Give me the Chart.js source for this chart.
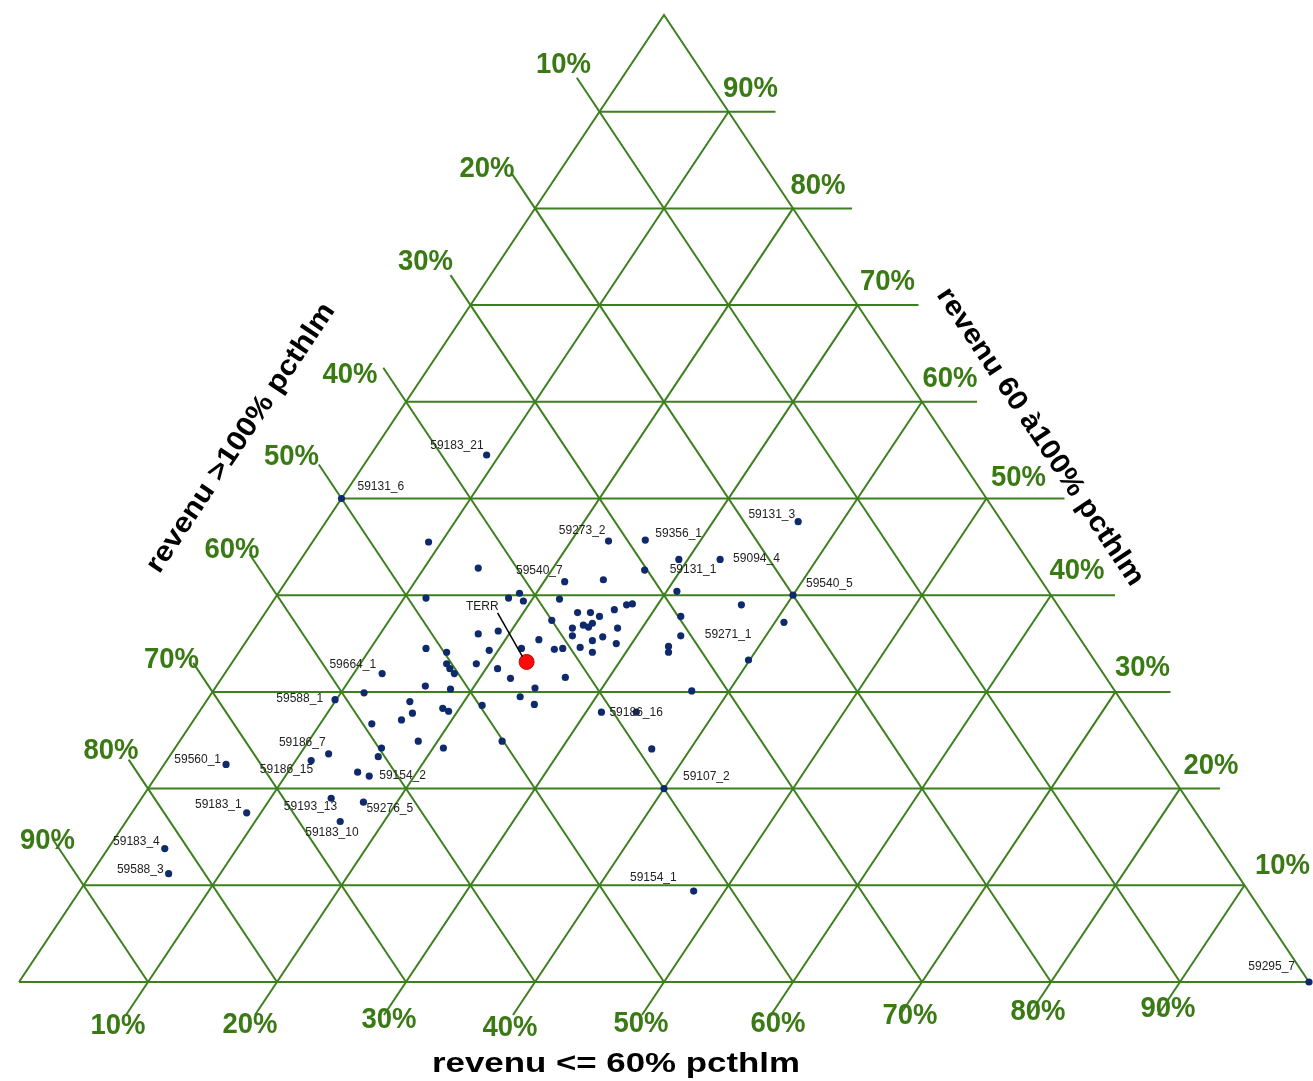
<!DOCTYPE html>
<html><head><meta charset="utf-8">
<script src="https://cdn.jsdelivr.net/npm/chart.js@4/dist/chart.umd.min.js"></script>
<style>html,body{margin:0;padding:0;background:#fff;overflow:hidden}#wrap{width:1313px;height:1081px;position:relative}</style>
</head><body><div id="wrap"><canvas id="c" width="1313" height="1081"></canvas></div>
<script>
// ---------- data ----------
const gridTicks = [10, 20, 30, 40, 50, 60, 70, 80, 90];
const tickLabels = ['10%', '20%', '30%', '40%', '50%', '60%', '70%', '80%', '90%'];
const titleLow = 'revenu <= 60% pcthlm';
const titleMid = 'revenu 60 à100% pcthlm';
const titleHigh = 'revenu >100% pcthlm';

const B = n => Array(n).fill('');
const pointNames = [
  // group 1 (27)
  '59183_21','59131_6', ...B(6), '59273_2','59356_1','59131_3','', '59131_1','59094_4','59540_7','', '59540_5', ...B(5), '59271_1', ...B(4),
  // group 2 (26)
  ...B(26),
  // group 3 (45)
  ...B(10), '59664_1', ...B(3), '59588_1', ...B(13), '59186_7','59186_15','','59154_2','59193_13','59276_5','59183_10',
  '59560_1','59183_1','59183_4','59588_3','59186_16','','','59107_2','59154_1','59295_7'
];
const pctLow = [
  9.0,0.0,9.0,14.2,11.7,18.1,18.7,19.4,22.9,25.7,36.6,29.3,27.2,32.5,21.6,24.5,40.0,30.8,22.1,36.5,40.7,32.4,33.4,33.0,33.3,39.9,37.1,
  24.2,25.2,26.1,26.9,27.6,28.0,22.6,24.6,25.3,25.8,25.9,28.1,25.0,27.4,26.8,26.2,28.8,27.4,24.9,24.3,22.6,21.7,26.6,22.4,24.8,24.1,
  19.0,17.6,14.3,16.1,19.3,16.7,17.2,17.8,19.0,20.9,12.2,11.8,16.2,18.3,9.9,15.8,16.6,18.7,19.3,21.6,25.6,16.1,14.0,18.5,20.8,25.0,
  16.0,16.2,12.2,11.2,15.4,16.5,14.7,17.4,16.6,4.8,8.9,4.4,6.0,31.2,33.9,37.0,40.0,47.6,100.0];
const pctMid = [
  54.5,50.0,45.5,42.8,39.7,39.7,40.2,39.4,45.6,45.7,47.6,43.7,42.6,43.7,41.4,41.6,40.0,40.4,39.6,39.0,37.2,37.8,35.8,34.7,34.1,33.3,30.1,
  38.2,38.2,37.8,38.5,39.0,39.1,37.4,36.6,36.9,36.7,37.1,36.6,35.8,35.7,35.3,34.6,35.0,34.1,34.5,34.4,35.4,34.5,31.5,31.4,30.4,29.5,
  36.3,36.0,34.5,34.1,34.3,32.9,32.4,31.9,32.9,32.4,31.9,29.9,30.6,30.3,29.2,29.0,27.8,28.3,28.0,28.6,28.7,27.1,26.7,24.9,24.2,24.9,
  24.2,23.3,23.6,22.9,21.7,21.3,19.0,18.6,16.6,22.5,17.5,13.8,11.2,27.9,27.9,24.1,20.0,9.4,0.0];
const pctHigh = pctLow.map((v, i) => Math.round((100 - v - pctMid[i]) * 10) / 10);

const terrName = 'TERR';
const terrLow = [22.8], terrMid = [33.1], terrHigh = [44.1];

// ---------- layout / style (pixels) ----------
const labelOffsets = {
  '59183_21':[-3,-9,'right'], '59131_6':[16,-12,'left'], '59273_2':[-3,-10,'right'], '59356_1':[10,-6,'left'],
  '59131_3':[-3,-7,'right'], '59131_1':[25,0,'left'], '59094_4':[13,-1,'left'], '59540_7':[-2,-11,'right'],
  '59540_5':[13,-12,'left'], '59271_1':[24,-1,'left'], '59664_1':[-6,-9,'right'], '59588_1':[-12,-1,'right'],
  '59186_7':[-3,-11,'right'], '59186_15':[2,9,'right'], '59154_2':[10,0,'left'], '59193_13':[6,8,'right'],
  '59276_5':[3,7,'left'], '59183_10':[-35,11,'left'], '59560_1':[-5,-5,'right'], '59183_1':[-5,-8,'right'],
  '59183_4':[-5,-7,'right'], '59588_3':[-5,-4,'right'], '59186_16':[8,0,'left'], '59107_2':[19,-12,'left'],
  '59154_1':[-17,-13,'right'], '59295_7':[-14,-15,'right']
};
const rightExt = [0, 40, 55, 64, 78, 55, 61, 59, 47];
const leftExt = [34, 36, 30, 34, 34, 41, 29, 29, 46];
const bottomExt = 33;
const rightLab = [[38,-20],[31,-23],[27,-24],[26,-24],[32,-21],[28,-23],[30,-23],[25,-23],[22,-23]];
const leftLab = [[-36,-47],[-48,-40],[-45,-43],[-56,-27],[-50,-42],[-45,-45],[-41,-32],[-37,-38],[-36,-45]];
const bottomLab = [[-30,44],[-27,43],[-17,38],[-25,46],[-23,42],[-15,42],[-12,34],[-13,30],[-12,27]];

const GREEN = '#3d7f1e', LABGREEN = '#3a7a14', NAVY = '#0f2a6c';
const PXX = 1290, PXY = 967; // pixels per data unit

// ternary -> cartesian (BL=high, BR=low, apex=mid)
function tern(low, mid, high) {
  const s = low + mid + high;
  return { x: (low + mid / 2) / s, y: mid / s };
}

const pts = pctLow.map((v, i) => tern(v, pctMid[i], pctHigh[i]));
const terrPts = terrLow.map((v, i) => tern(v, terrMid[i], terrHigh[i]));

function lineDS(a, b) {
  return { type: 'scatter', data: [a, b], showLine: true, borderColor: GREEN, borderWidth: 2,
    pointRadius: 0, pointHoverRadius: 0, clip: false, order: 10 };
}
const gridSets = [];
gridSets.push({ type: 'scatter', data: [tern(0,0,100), tern(100,0,0), tern(0,100,0), tern(0,0,100)], showLine: true,
  borderColor: GREEN, borderWidth: 2, pointRadius: 0, clip: false, order: 10 });
gridTicks.forEach((t, i) => {
  // constant mid (horizontal)
  const l = tern(0, t, 100 - t), r = tern(100 - t, t, 0);
  gridSets.push(lineDS(l, { x: r.x + rightExt[i] / PXX, y: r.y }));
  // constant low (parallel to left edge)
  const b1 = tern(t, 0, 100 - t), e1 = tern(t, 100 - t, 0);
  const s1 = bottomExt / PXY;
  gridSets.push(lineDS({ x: b1.x - s1 / 2, y: b1.y - s1 }, e1));
  // constant high (parallel to right edge)
  const b2 = tern(100 - t, 0, t), e2 = tern(0, 100 - t, t);
  const s2 = leftExt[i] / PXY;
  gridSets.push(lineDS(b2, { x: e2.x - s2 / 2, y: e2.y + s2 }));
});

function fitText(ctx, text, cx, cy, w, font, color, angle) {
  ctx.save();
  ctx.translate(cx, cy);
  if (angle) ctx.rotate(angle);
  ctx.font = font;
  const m = ctx.measureText(text).width;
  ctx.scale(w / m, 1);
  ctx.fillStyle = color;
  ctx.textAlign = 'center';
  ctx.textBaseline = 'middle';
  ctx.fillText(text, 0, 0);
  ctx.restore();
}

const overlay = {
  id: 'overlay',
  afterDatasetsDraw(chart) {
    const ctx = chart.ctx, xs = chart.scales.x, ys = chart.scales.y;
    const P = p => [xs.getPixelForValue(p.x), ys.getPixelForValue(p.y)];
    const TF = 'bold 30px "Liberation Sans", Arial, sans-serif';
    gridTicks.forEach((t, i) => {
      const r = P(tern(100 - t, t, 0));
      fitText(ctx, tickLabels[i], r[0] + rightLab[i][0], r[1] + rightLab[i][1], 55, TF, LABGREEN);
      const l = P(tern(0, 100 - t, t));
      fitText(ctx, tickLabels[i], l[0] + leftLab[i][0], l[1] + leftLab[i][1], 55, TF, LABGREEN);
      const b = P(tern(t, 0, 100 - t));
      fitText(ctx, tickLabels[i], b[0] + bottomLab[i][0], b[1] + bottomLab[i][1], 55, TF, LABGREEN);
    });
    const TT = 'bold 28px "Liberation Sans", Arial, sans-serif';
    const ang = Math.atan(PXY / (PXX / 2));
    fitText(ctx, titleLow, 616, 1064, 368, TT, '#000');
    fitText(ctx, titleMid, 1040, 437, 352, TT, '#000', ang);
    fitText(ctx, titleHigh, 241, 438, 318, TT, '#000', -ang);

    ctx.save();
    ctx.font = '12px "Liberation Sans", Arial, sans-serif';
    ctx.fillStyle = '#222';
    ctx.textBaseline = 'middle';
    pts.forEach((p, i) => {
      const n = pointNames[i];
      if (!n) return;
      const o = labelOffsets[n] || [6, -8, 'left'];
      const q = P(p);
      ctx.textAlign = o[2];
      ctx.fillText(n, q[0] + o[0], q[1] + o[1]);
    });
    const tq = P(terrPts[0]);
    ctx.textAlign = 'right';
    ctx.fillText(terrName, tq[0] - 28, tq[1] - 55);
    ctx.strokeStyle = '#000';
    ctx.lineWidth = 1.5;
    ctx.beginPath();
    ctx.moveTo(tq[0] - 29, tq[1] - 49);
    ctx.lineTo(tq[0] - 4, tq[1] - 5);
    ctx.stroke();
    ctx.restore();
  }
};

new Chart(document.getElementById('c'), {
  type: 'scatter',
  data: {
    datasets: [
      { label: terrName, data: terrPts, backgroundColor: '#ff0a0a', borderColor: '#d00000', borderWidth: 1,
        pointRadius: 7.5, clip: false, order: 0 },
      { label: 'communes', data: pts, backgroundColor: NAVY, borderColor: NAVY, borderWidth: 0,
        pointRadius: 3.6, clip: false, order: 1 },
      ...gridSets
    ]
  },
  options: {
    responsive: false,
    animation: false,
    events: [],
    layout: { padding: 0, autoPadding: false },
    plugins: { legend: { display: false }, tooltip: { enabled: false } },
    scales: {
      x: { type: 'linear', display: false, min: -19 / PXX, max: (1313 - 19) / PXX },
      y: { type: 'linear', display: false, min: -(1081 - 982) / PXY, max: 1 + 15 / PXY }
    }
  },
  plugins: [overlay]
});
</script>
</body></html>
